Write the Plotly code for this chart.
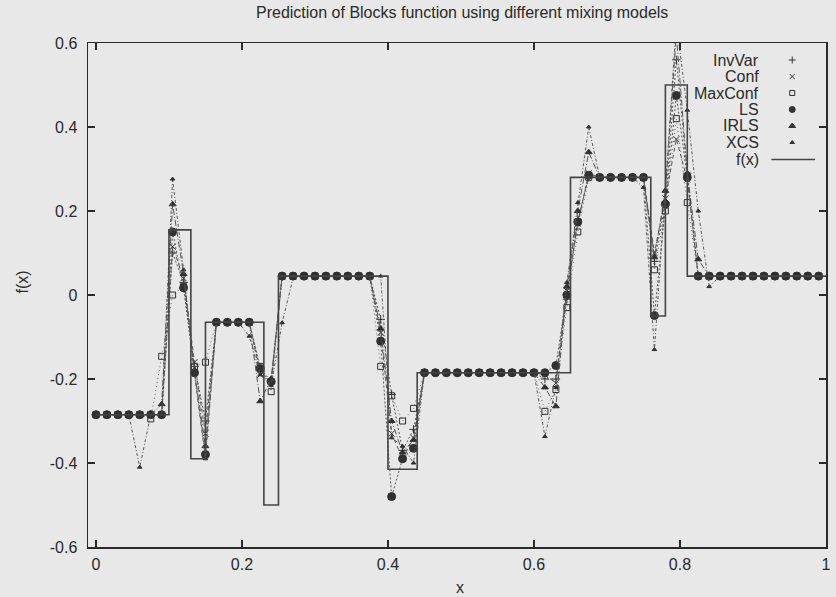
import plotly.graph_objects as go

# ---------------- data ----------------
x_grid = [0.000, 0.015, 0.030, 0.045, 0.060, 0.075, 0.090, 0.105, 0.120, 0.135,
          0.150, 0.165, 0.180, 0.195, 0.210, 0.225, 0.240, 0.255, 0.270, 0.285,
          0.300, 0.315, 0.330, 0.345, 0.360, 0.375, 0.390, 0.405, 0.420, 0.435,
          0.450, 0.465, 0.480, 0.495, 0.510, 0.525, 0.540, 0.555, 0.570, 0.585,
          0.600, 0.615, 0.630, 0.645, 0.660, 0.675, 0.690, 0.705, 0.720, 0.735,
          0.750, 0.765, 0.780, 0.795, 0.810, 0.825, 0.840, 0.855, 0.870, 0.885,
          0.900, 0.915, 0.930, 0.945, 0.960, 0.975, 0.990]

inv_var = [-0.285, -0.285, -0.285, -0.285, -0.285, -0.285, -0.285,
           0.10, 0.03, -0.17, -0.30,
           -0.065, -0.065, -0.065, -0.065,
           -0.18, -0.21,
           0.045, 0.045, 0.045, 0.045, 0.045, 0.045, 0.045, 0.045, 0.045,
           -0.058, -0.237, -0.37, -0.32,
           -0.185, -0.185, -0.185, -0.185, -0.185, -0.185, -0.185, -0.185, -0.185, -0.185, -0.185,
           -0.20, -0.20, -0.01, 0.18, 0.28,
           0.28, 0.28, 0.28, 0.28, 0.28,
           0.08, 0.22, 0.56, 0.29,
           0.045, 0.045, 0.045, 0.045, 0.045, 0.045, 0.045, 0.045, 0.045, 0.045, 0.045, 0.045]

conf = [-0.285, -0.285, -0.285, -0.285, -0.285, -0.285, -0.285,
        0.115, 0.04, -0.16, -0.33,
        -0.065, -0.065, -0.065, -0.065,
        -0.19, -0.205,
        0.045, 0.045, 0.045, 0.045, 0.045, 0.045, 0.045, 0.045, 0.045,
        -0.09, -0.33, -0.39, -0.34,
        -0.185, -0.185, -0.185, -0.185, -0.185, -0.185, -0.185, -0.185, -0.185, -0.185, -0.185,
        -0.19, -0.21, 0.01, 0.17, 0.29,
        0.28, 0.28, 0.28, 0.28, 0.28,
        0.10, 0.23, 0.371, 0.275,
        0.045, 0.045, 0.045, 0.045, 0.045, 0.045, 0.045, 0.045, 0.045, 0.045, 0.045, 0.045]

max_conf = [-0.285, -0.285, -0.285, -0.285, -0.285, -0.295, -0.146,
            0.00, 0.02, -0.17, -0.16,
            -0.065, -0.065, -0.065, -0.065,
            -0.17, -0.23,
            0.045, 0.045, 0.045, 0.045, 0.045, 0.045, 0.045, 0.045, 0.045,
            -0.17, -0.24, -0.30, -0.27,
            -0.185, -0.185, -0.185, -0.185, -0.185, -0.185, -0.185, -0.185, -0.185, -0.185, -0.185,
            -0.277, -0.225, -0.03, 0.15, 0.28,
            0.28, 0.28, 0.28, 0.28, 0.28,
            0.06, 0.20, 0.42, 0.22,
            0.045, 0.045, 0.045, 0.045, 0.045, 0.045, 0.045, 0.045, 0.045, 0.045, 0.045, 0.045]

ls = [-0.285, -0.285, -0.285, -0.285, -0.285, -0.285, -0.285,
      0.15, 0.017, -0.185, -0.38,
      -0.065, -0.065, -0.065, -0.065,
      -0.175, -0.206,
      0.045, 0.045, 0.045, 0.045, 0.045, 0.045, 0.045, 0.045, 0.045,
      -0.11, -0.48, -0.39, -0.365,
      -0.185, -0.185, -0.185, -0.185, -0.185, -0.185, -0.185, -0.185, -0.185, -0.185, -0.185,
      -0.185, -0.168, 0.00, 0.174, 0.285,
      0.28, 0.28, 0.28, 0.28, 0.28,
      -0.049, 0.216, 0.475, 0.28,
      0.045, 0.045, 0.045, 0.045, 0.045, 0.045, 0.045, 0.045, 0.045, 0.045, 0.045, 0.045]

irls = [-0.285, -0.285, -0.285, -0.285, -0.285, -0.285, -0.26,
        0.216, 0.05, -0.18, -0.36,
        -0.065, -0.065, -0.065, -0.065,
        -0.253, -0.20,
        0.045, 0.045, 0.045, 0.045, 0.045, 0.045, 0.045, 0.045, 0.045,
        -0.08, -0.30, -0.375, -0.345,
        -0.185, -0.185, -0.185, -0.185, -0.185, -0.185, -0.185, -0.185, -0.185, -0.185, -0.185,
        -0.22, -0.265, 0.02, 0.20, 0.34,
        0.28, 0.28, 0.28, 0.28, 0.28,
        0.09, 0.248, 0.62, 0.29,
        0.085, 0.045, 0.045, 0.045, 0.045, 0.045, 0.045, 0.045, 0.045, 0.045, 0.045, 0.045]

xcs = [-0.285, -0.285, -0.285, -0.285, -0.41, -0.285, -0.285,
       0.276, 0.06, -0.19, -0.39,
       -0.065, -0.065, -0.065, -0.098,
       -0.19, -0.215,
       -0.066, 0.04, 0.045, 0.045, 0.045, 0.045, 0.045, 0.045, 0.045,
       0.045, -0.34, -0.36, -0.40,
       -0.185, -0.185, -0.185, -0.185, -0.185, -0.185, -0.185, -0.185, -0.185, -0.185, -0.185,
       -0.337, -0.22, 0.03, 0.22, 0.40,
       0.28, 0.28, 0.28, 0.28, 0.256,
       -0.13, 0.25, 0.65, 0.44,
       0.20, 0.02, 0.045, 0.045, 0.045, 0.045, 0.045, 0.045, 0.045, 0.045, 0.045, 0.045]

# true Blocks function: breakpoints and levels (step function)
f_x = [0.0, 0.10, 0.13, 0.15, 0.23, 0.25, 0.40, 0.44, 0.65, 0.76, 0.78, 0.81, 1.0]
f_y = [-0.285, 0.155, -0.39, -0.065, -0.5, 0.045, -0.415, -0.185, 0.28, -0.05, 0.5, 0.045, 0.045]

names = ["InvVar", "Conf", "MaxConf", "LS", "IRLS", "XCS"]
series = [inv_var, conf, max_conf, ls, irls, xcs]

x_ticks = [0, 0.2, 0.4, 0.6, 0.8, 1]
x_tick_text = ["0", "0.2", "0.4", "0.6", "0.8", "1"]
y_ticks = [-0.6, -0.4, -0.2, 0, 0.2, 0.4, 0.6]
y_tick_text = ["-0.6", "-0.4", "-0.2", "0", "0.2", "0.4", "0.6"]

# ---------------- styling ----------------
W, H = 836, 597
L, R, T, B = 88, 831, 43, 547
BG = "#e8e8e8"
INK = "#2a2a2a"
FONT = "Liberation Sans, Arial, Helvetica, sans-serif"

styles = [
    dict(symbol="cross-thin", size=6, leg=5, dash="2px,2px", lc="#555555"),
    dict(symbol="x-thin", size=6, leg=5, dash="4px,3px", lc="#555555"),
    dict(symbol="square-open", size=6, leg=5, dash="1px,3px", lc="#666666"),
    dict(symbol="circle", size=8, leg=6, dash="2px,2px", lc="#555555"),
    dict(symbol="triangle-up", size=6, leg=6, dash="6px,2px,1px,2px", lc="#555555"),
    dict(symbol="triangle-up", size=4, leg=4, dash="3px,2px,1px,2px", lc="#555555"),
]


def pxx(p):
    return (p - L) / (R - L)


def pxy(p):
    return (B - p) / (B - T)


fig = go.Figure()

for name, ys, st in zip(names, series, styles):
    mk = dict(symbol=st["symbol"], size=st["size"], color="#303030",
              line=dict(color="#303030", width=1))
    fig.add_trace(go.Scatter(
        x=x_grid, y=ys, mode="lines+markers", name=name, showlegend=False,
        line=dict(color=st["lc"], width=1, dash=st["dash"]),
        marker=mk))

fig.add_trace(go.Scatter(
    x=f_x, y=f_y, mode="lines", name="f(x)", showlegend=False,
    line=dict(color="#444444", width=1.6, shape="hv")))

# legend (gnuplot style: right-aligned text, sample to the right)
leg_rows = [60, 76.5, 93, 109.5, 126, 142.5, 159.5]
leg_sym_x = 797
for k, (name, st) in enumerate(zip(names, styles)):
    mk = dict(symbol=st["symbol"], size=st["leg"], color="#333333",
              line=dict(color="#333333", width=1))
    fig.add_trace(go.Scatter(x=[leg_sym_x], y=[leg_rows[k]], mode="markers",
                             marker=mk, xaxis="x2", yaxis="y2", showlegend=False,
                             hoverinfo="skip"))
fig.add_trace(go.Scatter(x=[776, 820], y=[leg_rows[6], leg_rows[6]], mode="lines",
                         line=dict(color="#444444", width=1.6), xaxis="x2", yaxis="y2",
                         showlegend=False, hoverinfo="skip"))

annotations = []
for k, name in enumerate(names + ["f(x)"]):
    annotations.append(dict(text=name, x=pxx(766), y=pxy(leg_rows[k]), xref="paper", yref="paper",
                            xanchor="right", yanchor="middle", showarrow=False,
                            font=dict(family=FONT, size=16, color=INK)))

annotations.append(dict(text="x", x=pxx(463), y=pxy(587), xref="paper", yref="paper",
                        xanchor="center", yanchor="middle", showarrow=False,
                        font=dict(family=FONT, size=16, color=INK)))
annotations.append(dict(text="f(x)", x=pxx(22), y=pxy(282), xref="paper", yref="paper",
                        xanchor="center", yanchor="middle", showarrow=False, textangle=-90,
                        font=dict(family=FONT, size=16, color=INK)))
annotations.append(dict(text="Prediction of Blocks function using different mixing models",
                        x=pxx(465), y=pxy(13), xref="paper", yref="paper",
                        xanchor="center", yanchor="middle", showarrow=False,
                        font=dict(family=FONT, size=16, color=INK)))

axis_common = dict(showline=True, mirror="ticks", linecolor=INK, linewidth=1.5,
                   ticks="inside", ticklen=7, tickwidth=1.2, tickcolor=INK,
                   showgrid=False, zeroline=False,
                   tickfont=dict(family=FONT, size=16, color=INK))

fig.update_layout(
    width=W, height=H,
    margin=dict(l=L, r=W - R, t=T, b=H - B, pad=0),
    paper_bgcolor=BG, plot_bgcolor=BG,
    showlegend=False,
    xaxis=dict(range=[-0.0109, 1.0], tickvals=x_ticks, ticktext=x_tick_text,
               ticklabelstandoff=2, **axis_common),
    yaxis=dict(range=[-0.6, 0.6], tickvals=y_ticks, ticktext=y_tick_text,
               ticklabelstandoff=6, **axis_common),
    xaxis2=dict(overlaying="x", range=[L, R], visible=False, anchor="y2"),
    yaxis2=dict(overlaying="y", range=[B, T], visible=False, anchor="x2"),
    annotations=annotations,
    font=dict(family=FONT, size=16, color=INK),
)

fig.write_html(
    "out.html",
    config={"displayModeBar": False, "staticPlot": True},
    post_script="document.body.style.margin='0px';document.body.style.padding='0px';"
                "document.body.style.overflow='hidden';"
                "document.body.style.background='" + BG + "';",
)
